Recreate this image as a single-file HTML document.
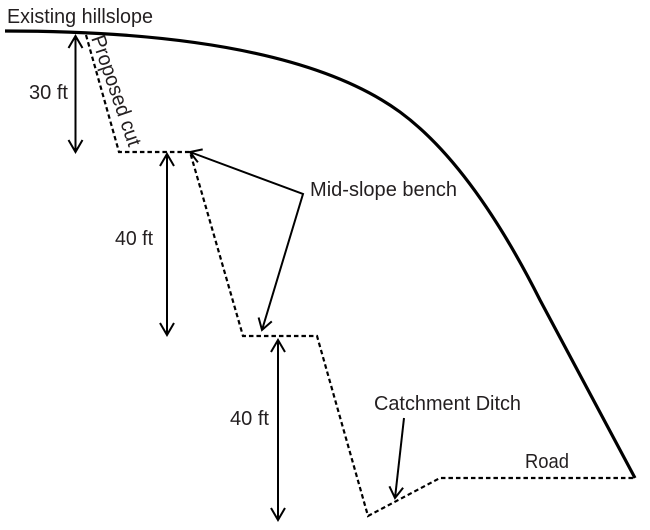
<!DOCTYPE html>
<html><head><meta charset="utf-8"><style>
html,body{margin:0;padding:0;background:#fff;}
svg{display:block;}
text{font-family:"Liberation Sans",sans-serif;font-size:20.5px;fill:#231f20;}
</style></head><body>
<svg width="650" height="530" viewBox="0 0 650 530" xmlns="http://www.w3.org/2000/svg">
<rect width="650" height="530" fill="#fff"/>
<!-- hillslope -->
<path d="M5,31 Q289,31 400,112 Q472,165 540,300 L635,478" fill="none" stroke="#000" stroke-width="3.2"/>
<!-- proposed cut dashed -->
<polyline points="86,35 119,152 190,152 243,336 317,336 368,516 440,478 635,478" fill="none" stroke="#000" stroke-width="2.2" stroke-dasharray="4.5 3"/>
<!-- vertical dimension arrows -->
<g fill="none" stroke="#000" stroke-width="2" stroke-linejoin="miter">
<line x1="75.5" y1="36" x2="75.5" y2="152"/>
<polyline points="68.5,48 75.5,36 82.5,48"/>
<polyline points="68.5,140 75.5,152 82.5,140"/>
<line x1="167" y1="154" x2="167" y2="335"/>
<polyline points="160,166 167,154 174,166"/>
<polyline points="160,323 167,335 174,323"/>
<line x1="278" y1="340" x2="278" y2="520"/>
<polyline points="271,352 278,340 285,352"/>
<polyline points="271,508 278,520 285,508"/>
<!-- mid-slope bench arrows -->
<polyline points="190,152 303,194 262,330"/>
<polyline points="197.9,162.3 190,152 202.7,149.4"/>
<polyline points="271.8,321.4 262,330 258.6,317.5"/>
<!-- catchment arrow -->
<line x1="404" y1="418" x2="395" y2="498"/>
<polyline points="403.1,487.8 395,498 389.4,486.3"/>
</g>
<!-- labels -->
<text x="7" y="23" textLength="146" lengthAdjust="spacingAndGlyphs">Existing hillslope</text>
<text x="29" y="99" textLength="39" lengthAdjust="spacingAndGlyphs">30 ft</text>
<text x="115" y="245" textLength="38" lengthAdjust="spacingAndGlyphs">40 ft</text>
<text x="230" y="425" textLength="39" lengthAdjust="spacingAndGlyphs">40 ft</text>
<text x="310" y="196" textLength="147" lengthAdjust="spacingAndGlyphs">Mid-slope bench</text>
<text x="374" y="410" textLength="147" lengthAdjust="spacingAndGlyphs">Catchment Ditch</text>
<text x="525" y="468" textLength="44" lengthAdjust="spacingAndGlyphs">Road</text>
<text transform="translate(91,38) rotate(71)" x="0" y="0" textLength="116" lengthAdjust="spacingAndGlyphs">Proposed cut</text>
</svg>
</body></html>
